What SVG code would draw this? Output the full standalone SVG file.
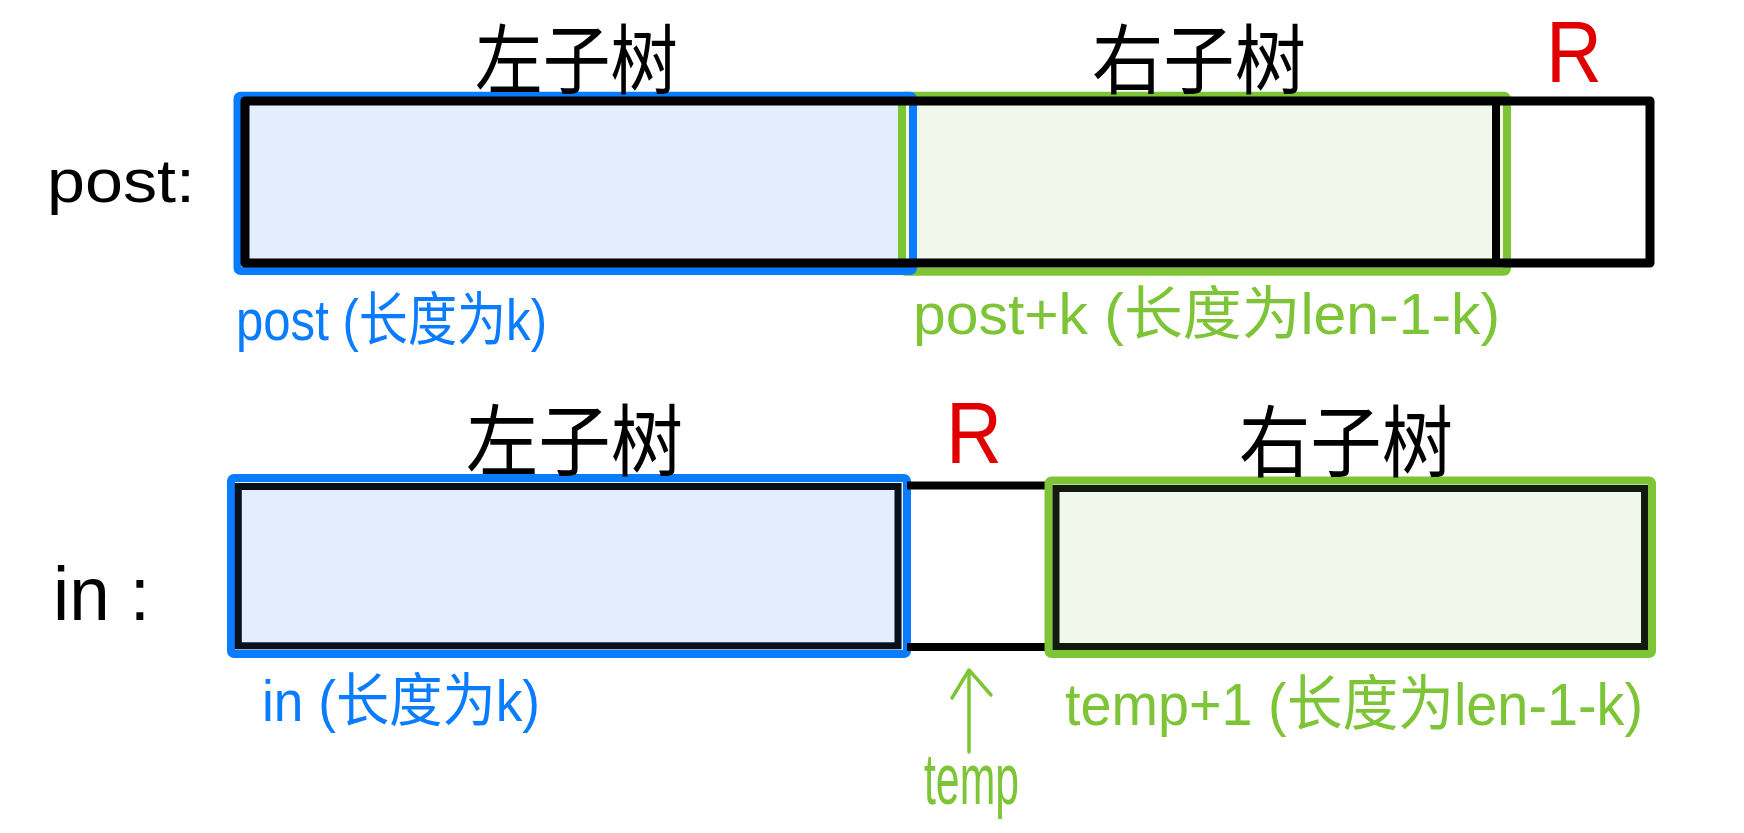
<svg xmlns="http://www.w3.org/2000/svg" width="1744" height="833" viewBox="0 0 1744 833">
<style>
  .bg { fill: #ffffff; }
  .blueFill { fill: #e2eefb; stroke: none; }
  .blueStroke { fill: none; stroke: #0a7cff; stroke-width: 8; stroke-linejoin: round; }
  .greenBox { fill: #f1f7ea; stroke: #7dc436; stroke-width: 8; stroke-linejoin: round; }
  .blueBox { fill: #e2eefb; stroke: #0a7cff; stroke-width: 8; stroke-linejoin: round; }
  .arr { fill: none; stroke: #000000; stroke-width: 9; stroke-linejoin: round; }
  .inner { fill: none; stroke: #07101c; stroke-width: 7; }
  .innerG { fill: none; stroke: #121a0e; stroke-width: 7; }
  .blk { stroke: #000000; stroke-width: 8; fill: none; }
  .t { font-family: "Liberation Sans", "Noto Sans CJK SC", sans-serif; }
  .cjk { font-family: "Noto Sans CJK SC", sans-serif; fill: #000000; }
  .black { fill: #000000; }
  .blue { fill: #0a7cff; }
  .green { fill: #7dc436; }
  .red { fill: #e00000; }
  .conn { fill: none; stroke: #7dc436; stroke-width: 3.5; stroke-linecap: round; stroke-linejoin: round; }
</style>
<rect class="bg" x="0" y="0" width="1744" height="833"/>

<!-- top row: post -->
<g id="post-label">
  <text class="t black" x="47" y="202" font-size="62" textLength="148" lengthAdjust="spacingAndGlyphs">post:</text>
</g>
<g id="post-left-subtree">
  <rect class="blueFill" x="237.5" y="95.7" width="675.5" height="175.3" rx="2"/>
</g>
<g id="post-right-subtree">
  <rect class="greenBox" x="902" y="95.7" width="605" height="176" rx="3"/>
</g>
<g id="post-left-subtree-border">
  <rect class="blueStroke" x="237.5" y="95.7" width="675.5" height="175.3" rx="3"/>
</g>
<g id="post-array">
  <rect class="arr" x="245" y="101" width="1405" height="162"/>
  <line class="blk" x1="1496" y1="97" x2="1496" y2="267"/>
</g>
<g id="post-texts">
  <text class="cjk" x="475" y="88" font-size="76" textLength="203" lengthAdjust="spacingAndGlyphs">左子树</text>
  <text class="cjk" x="1092" y="88" font-size="76" textLength="214" lengthAdjust="spacingAndGlyphs">右子树</text>
  <text class="t red" x="1546" y="82" font-size="88" textLength="56" lengthAdjust="spacingAndGlyphs">R</text>
  <text class="t blue" x="236" y="340" font-size="58" textLength="311" lengthAdjust="spacingAndGlyphs">post (长度为k)</text>
  <text class="t green" x="913" y="334" font-size="58" textLength="587" lengthAdjust="spacingAndGlyphs">post+k (长度为len-1-k)</text>
</g>

<!-- bottom row: in -->
<g id="in-label">
  <text class="t black" x="53" y="620" font-size="76" textLength="97" lengthAdjust="spacingAndGlyphs">in :</text>
</g>
<g id="in-left-subtree">
  <rect class="blueBox" x="231" y="478" width="676" height="176" rx="3"/>
  <rect class="inner" x="238.3" y="486.5" width="659.7" height="159.3"/>
</g>
<g id="in-root">
  <line class="blk" x1="907" y1="485.5" x2="1048" y2="485.5"/>
  <line class="blk" x1="907" y1="647" x2="1048" y2="647"/>
</g>
<g id="in-right-subtree">
  <rect class="greenBox" x="1048.5" y="480.5" width="603.5" height="173.5" rx="3"/>
  <rect class="innerG" x="1056" y="488.5" width="588.5" height="158"/>
</g>
<g id="in-texts">
  <text class="cjk" x="466" y="470" font-size="78" textLength="217" lengthAdjust="spacingAndGlyphs">左子树</text>
  <text class="cjk" x="1239" y="471" font-size="78" textLength="214" lengthAdjust="spacingAndGlyphs">右子树</text>
  <text class="t red" x="946" y="463" font-size="88" textLength="56" lengthAdjust="spacingAndGlyphs">R</text>
  <text class="t blue" x="262" y="721" font-size="58" textLength="278" lengthAdjust="spacingAndGlyphs">in (长度为k)</text>
  <text class="t green" x="1065" y="725" font-size="60" textLength="578" lengthAdjust="spacingAndGlyphs">temp+1 (长度为len-1-k)</text>
  <text class="t green" x="924" y="804" font-size="72" textLength="95" lengthAdjust="spacingAndGlyphs">temp</text>
</g>

<g id="connectors">
  <path class="conn" d="M969 752 L969 671"/>
  <path class="conn" d="M952 698 L969 670 L991 695"/>
</g>
</svg>
